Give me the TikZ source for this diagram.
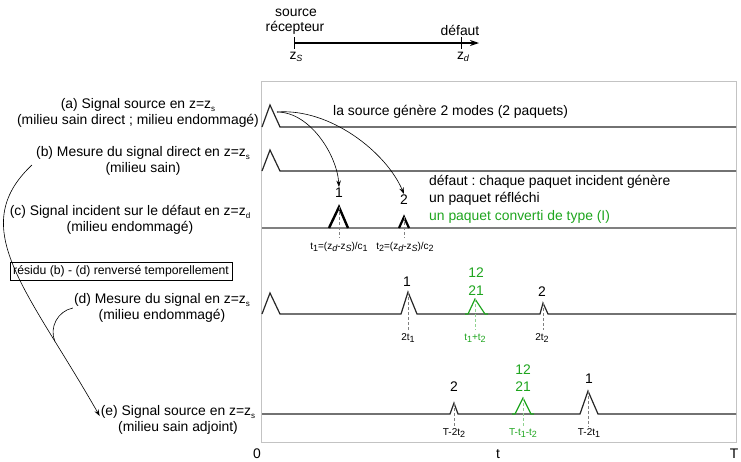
\documentclass[tikz,border=0pt]{standalone}
\usepackage{fontspec}
\setmainfont{Liberation Sans}
\usepackage{xcolor}
\usetikzlibrary{arrows.meta,calc}

\definecolor{modegreen}{RGB}{30,165,30}
\definecolor{framegray}{RGB}{195,195,195}
\newcommand{\lbl}{\fontsize{13.9}{16.5}\selectfont\frenchspacing}
\newcommand{\smalllbl}{\fontsize{10}{12}\selectfont}
\newcommand{\boxlbl}{\fontsize{12.2}{13}\selectfont}
\newcommand{\low}[1]{\raisebox{-0.35ex}{\fontsize{9}{9}\selectfont #1}}
\newcommand{\lowsub}[1]{\raisebox{-0.4ex}{\fontsize{8}{8}\selectfont #1}}

\begin{document}
\begin{tikzpicture}[x=1pt, y=-1pt, font=\lbl,
  every node/.style={inner sep=1pt},
  trace/.style={line width=1.2pt, black!85},
  tick/.style={densely dashed, gray, line width=0.6pt},
  conv/.style={modegreen},
  arr/.style={-{Stealth[length=6.5pt,width=4.5pt]}, line width=0.6pt}]
  \useasboundingbox (0,0) rectangle (741,461);

  % axe z
  \coordinate (zsrc) at (294,43);
  \coordinate (zend) at (479,43);
  \draw[line width=1.3pt, -{Stealth[length=9pt,width=6pt]}] (zsrc) -- (zend);
  \draw[line width=1pt] (294,37) -- (294,49);
  \draw[line width=1pt] (461,37) -- (461,49);
  \node (src)  at (296,13) {source};
  \node (rec)  at (295,28) {récepteur};
  \node (def)  at (460,30) {défaut};
  \node (zslab) at (296,57) {z\low{\itshape S}};
  \node (zdlab) at (463,57) {z\low{\itshape d}};

  \draw[framegray, line width=0.8pt] (261,81) rectangle (736,442);

  % (a) et (b)
  \draw[trace] (262,127) -- (270,105) -- (280,127) -- (736,127);
  \draw[trace] (262,171) -- (270,150) -- (280,171) -- (736,171);
  \coordinate (srcpk) at (277,112);
  \node[anchor=west] (modes) at (332,112) {la source génère 2 modes (2 paquets)};

  % (c)
  \draw[gray, line width=1.2pt] (262,228) -- (736,228);
  \draw[line width=2.4pt] (329,228) -- (339,207) -- (348,228);
  \draw[line width=2.2pt] (399,228) -- (404,217) -- (409,228);
  \node (c1) at (339,193) {1};
  \node (c2) at (404,200) {2};
  \draw[arr] (srcpk) .. controls +(33,0) and +(-2,-32) .. (c1.north);
  \draw[arr] (srcpk) .. controls +(53,-4) and +(-18,-42) .. (c2.north);
  \draw[tick] (339,207) -- (339,238);
  \draw[tick] (404,217) -- (404,238);
  \node[font=\smalllbl] (t1) at (339,247) {t\low{1}=(z\low{\itshape d}-z\low{\itshape S})/c\low{1}};
  \node[font=\smalllbl] (t2) at (405,247) {t\low{2}=(z\low{\itshape d}-z\low{\itshape S})/c\low{2}};
  \node[anchor=west, align=left, font=\fontsize{13.9}{17.5}\selectfont\frenchspacing] (defaut) at (428,199)
    {défaut : chaque paquet incident génère\\un paquet réfléchi\\\textcolor{modegreen}{un paquet converti de type (I)}};

  % (d)
  \draw[trace] (262,314) -- (270,293) -- (280,314) -- (401,314) -- (408,292) -- (417,314)
    -- (540,314) -- (543,303) -- (548,314) -- (736,314);
  \draw[trace, conv] (465,314) -- (468,314) -- (475,299) -- (485,314) -- (488,314);
  \node (d1) at (407,282) {1};
  \node[conv] (d12) at (476,273) {12};
  \node[conv] (d21) at (476,291) {21};
  \node (d2) at (542,292) {2};
  \draw[tick] (408,292) -- (408,330);
  \draw[tick, modegreen!50] (475,299) -- (475,330);
  \draw[tick] (543,303) -- (543,330);
  \node[font=\smalllbl] (d1t) at (408,338) {2t\low{1}};
  \node[font=\smalllbl, conv] (d12t) at (475,338) {t\low{1}+t\low{2}};
  \node[font=\smalllbl] (d2t) at (542,338) {2t\low{2}};

  % (e)
  \draw[trace] (262,414) -- (450,414) -- (454,403) -- (458,414) -- (580,414) -- (588,391)
    -- (598,414) -- (736,414);
  \draw[trace, conv] (512,414) -- (515,414) -- (523,398) -- (531,414) -- (534,414);
  \node (e2) at (454,387) {2};
  \node[conv] (e12) at (523,370) {12};
  \node[conv] (e21) at (523,387) {21};
  \node (e1) at (589,379) {1};
  \draw[tick] (454,403) -- (454,427);
  \draw[tick, modegreen!50] (523,398) -- (523,427);
  \draw[tick] (588,391) -- (588,427);
  \node[font=\smalllbl] (e2t) at (454,433) {T-2t\low{2}};
  \node[font=\smalllbl, conv] (e12t) at (523,433) {T-t\low{1}-t\low{2}};
  \node[font=\smalllbl] (e1t) at (589,433) {T-2t\low{1}};

  \node (zero) at (257,454) {0};
  \node (tlab) at (498,454) {t};
  \node (Tlab) at (734,454) {T};

  % libelles
  \node[align=center] (laba) at (138,113) {(a) Signal source en z=z\lowsub{s}\\(milieu sain direct ; milieu endommagé)};
  \node[align=center] (labb) at (143,161) {(b) Mesure du signal direct en z=z\lowsub{s}\\(milieu sain)};
  \node[align=center] (labc) at (130,220) {(c) Signal incident sur le défaut en z=z\lowsub{d}\\(milieu endommagé)};
  \node[draw, font=\boxlbl, inner sep=3pt] (resid) at (121,271) {résidu (b) - (d) renversé temporellement};
  \node[align=center] (labd) at (162,308) {(d) Mesure du signal en z=z\lowsub{s}\\(milieu endommagé)};
  \node[align=center] (labe) at (178,420) {(e) Signal source en z=z\lowsub{s}\\(milieu sain adjoint)};

  \draw[arr] ($(labb.west)+(-3,4)$) .. controls (-35,228) and (28,290) .. ($(labe.west)+(0,-4)$) coordinate[pos=0.78] (join);
  \draw[line width=0.6pt] (labd.west) .. controls +(-15,3) and +(-6,-14) .. (join);
\end{tikzpicture}
\end{document}
